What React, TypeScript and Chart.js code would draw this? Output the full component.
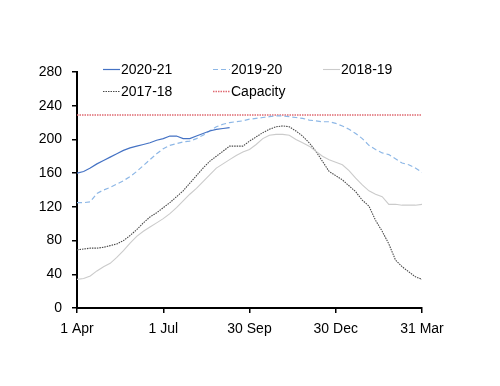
import React, { useEffect, useRef } from "react";
import { Chart, registerables } from "chart.js";

Chart.register(...registerables);

// Day offsets from 1 April (weekly readings)
const DAYS = [
  0, 7, 14, 21, 28, 35, 42, 49, 56, 63, 70, 77, 84, 91, 98, 105, 112, 119, 126, 133,
  140, 147, 154, 161, 168, 175, 182, 189, 196, 203, 210, 217, 224, 231, 238, 245, 252,
  259, 266, 273, 280, 287, 294, 301, 308, 315, 322, 329, 336, 343, 350, 357, 364,
];

const S2020_21 = [
  160, 162, 166, 171, 175, 179, 183, 187, 190, 192, 194, 196, 199, 201, 204, 204, 201, 201,
  204, 207, 210, 212, 213, 214,
];

const S2019_20 = [
  125, 125, 126, 136, 140, 143, 147, 151, 156, 162, 169, 176, 183, 189, 193, 195, 197, 198,
  201, 205, 210, 215, 218, 220, 221, 222, 224, 225, 226, 227, 228, 228, 227, 226, 225, 223,
  222, 221, 221, 219, 216, 212, 207, 201, 193, 188, 184, 182, 177, 172, 170, 166, 161,
];

const S2018_19 = [
  34, 35, 38, 44, 49, 53, 60, 68, 77, 85, 91, 96, 101, 106, 112, 119, 127, 135, 142, 150,
  158, 166, 171, 176, 181, 185, 188, 194, 201, 205, 206, 206, 205, 200, 196, 192, 186,
  180, 176, 173, 170, 163, 154, 146, 139, 135, 132, 123, 123, 122, 122, 122, 123,
];

const S2017_18 = [
  69, 70, 71, 71, 72, 74, 76, 80, 86, 93, 101, 108, 113, 119, 125, 132, 139, 148, 157, 166,
  174, 180, 186, 192, 192, 192, 198, 203, 208, 212, 215, 216, 215, 210, 204, 196, 186,
  174, 162, 157, 152, 145, 138, 128, 121, 104, 91, 76, 57, 49, 43, 37, 34,
];

const CAPACITY = 229;
const CAPACITY_DAYS = [0, 364];

const X_TICK_VALUES = [0, 91, 182, 273, 364];
const X_TICK_LABELS = ["1 Apr", "1 Jul", "30 Sep", "30 Dec", "31 Mar"];

const SERIES_LABELS = ["2020-21", "2019-20", "2018-19", "2017-18", "Capacity"];

const FONT = "'Liberation Sans', Arial, sans-serif";

function toXY(days: number[], vals: number[]) {
  return vals.map((v, i) => ({ x: days[i], y: v }));
}

const legendPlugin = {
  id: "customLegend",
  afterDatasetsDraw(chart: any) {
    const ctx = chart.ctx;
    const slots = [
      { x: 103, y: 69 },
      { x: 213, y: 69 },
      { x: 323, y: 69 },
      { x: 103, y: 91 },
      { x: 213, y: 91 },
    ];
    ctx.save();
    chart.data.datasets.forEach((ds: any, i: number) => {
      const s = slots[i];
      if (!s) return;
      ctx.beginPath();
      ctx.strokeStyle = ds.borderColor;
      ctx.lineWidth = ds.borderWidth;
      ctx.setLineDash(ds.borderDash || []);
      ctx.moveTo(s.x, s.y + 0.5);
      ctx.lineTo(s.x + 17, s.y + 0.5);
      ctx.stroke();
      ctx.setLineDash([]);
      ctx.fillStyle = "#000";
      ctx.font = `14px ${FONT}`;
      ctx.textBaseline = "middle";
      ctx.textAlign = "left";
      ctx.fillText(ds.label, s.x + 18, s.y + 1);
    });
    ctx.restore();
  },
};

export default function App() {
  const ref = useRef<HTMLCanvasElement | null>(null);

  useEffect(() => {
    if (!ref.current) return;
    const chart = new Chart(ref.current, {
      type: "line",
      data: {
        datasets: [
          {
            label: SERIES_LABELS[0],
            data: toXY(DAYS, S2020_21),
            borderColor: "#4472C4",
            borderWidth: 1.2,
            pointRadius: 0,
            fill: false,
          },
          {
            label: SERIES_LABELS[1],
            data: toXY(DAYS, S2019_20),
            borderColor: "#8DB7E6",
            borderWidth: 1.2,
            borderDash: [5, 3],
            pointRadius: 0,
            fill: false,
          },
          {
            label: SERIES_LABELS[2],
            data: toXY(DAYS, S2018_19),
            borderColor: "#CBCBCB",
            borderWidth: 1.1,
            pointRadius: 0,
            fill: false,
          },
          {
            label: SERIES_LABELS[3],
            data: toXY(DAYS, S2017_18),
            borderColor: "#4A4A4A",
            borderWidth: 1.1,
            borderDash: [1.5, 1],
            pointRadius: 0,
            fill: false,
          },
          {
            label: SERIES_LABELS[4],
            data: CAPACITY_DAYS.map((d) => ({ x: d, y: CAPACITY })),
            borderColor: "#E06A72",
            borderWidth: 1.4,
            borderDash: [1.5, 1],
            pointRadius: 0,
            fill: false,
          },
        ],
      },
      options: {
        animation: false,
        responsive: false,
        maintainAspectRatio: false,
        layout: { padding: { left: 0, right: 78, top: 72, bottom: 0 } },
        plugins: {
          legend: { display: false },
          tooltip: { enabled: false },
        },
        scales: {
          x: {
            type: "linear",
            min: 0,
            max: 364,
            afterBuildTicks: (scale: any) => {
              scale.ticks = X_TICK_VALUES.map((v) => ({ value: v }));
            },
            afterFit: (scale: any) => {
              scale.height = 78;
            },
            ticks: {
              font: { family: FONT, size: 14 },
              color: "#000",
              padding: 8,
              maxRotation: 0,
              autoSkip: false,
              callback: (v: any) => {
                const idx = X_TICK_VALUES.indexOf(Number(v));
                return idx >= 0 ? X_TICK_LABELS[idx] : "";
              },
            },
            grid: {
              display: true,
              drawOnChartArea: false,
              drawTicks: true,
              tickLength: 5,
              color: "#000",
              lineWidth: 1.5,
            },
            border: { display: true, color: "#000", width: 2 },
          },
          y: {
            type: "linear",
            min: 0,
            max: 280,
            afterFit: (scale: any) => {
              scale.width = 77;
            },
            ticks: {
              stepSize: 40,
              font: { family: FONT, size: 14 },
              color: "#000",
              padding: 10,
            },
            grid: {
              display: true,
              drawOnChartArea: false,
              drawTicks: true,
              tickLength: 5,
              color: "#000",
              lineWidth: 1.5,
            },
            border: { display: true, color: "#000", width: 2 },
          },
        },
      },
      plugins: [legendPlugin],
    });
    return () => chart.destroy();
  }, []);

  return (
    <div style={{ position: "fixed", left: 0, top: 0, width: 500, height: 386, background: "#fff" }}>
      <canvas ref={ref} width={500} height={386} style={{ width: 500, height: 386, display: "block" }} />
    </div>
  );
}
